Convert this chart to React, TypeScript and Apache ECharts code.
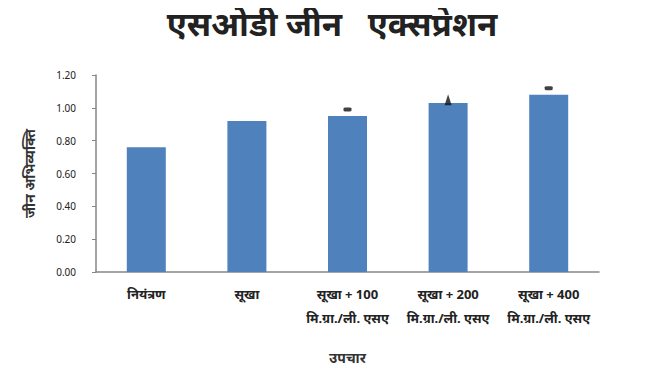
import React, { useEffect, useRef } from "react";
import * as echarts from "echarts";

const titleText = "एसओडी जीन   एक्सप्रेशन";
const categories = [
  "नियंत्रण",
  "सूखा",
  "सूखा + 100\nमि.ग्रा./ली. एसए",
  "सूखा + 200\nमि.ग्रा./ली. एसए",
  "सूखा + 400\nमि.ग्रा./ली. एसए",
];
const values = [0.76, 0.92, 0.95, 1.03, 1.08];
const dashMarks: (number | null)[] = [null, null, 0.99, null, 1.12];
const triangleMarks: (number | null)[] = [null, null, null, 1.05, null];
const yTicks = { min: 0, max: 1.2, interval: 0.2 };
const yName = "जीन अभिव्यक्ति";
const xName = "उपचार";

const FONT = "'Noto Sans', 'Noto Sans Devanagari', sans-serif";

export default function App() {
  const ref = useRef<HTMLDivElement>(null);
  useEffect(() => {
    if (!ref.current) return;
    const chart = echarts.init(ref.current, undefined, { renderer: "svg" });
    chart.setOption({
      animation: false,
      textStyle: { fontFamily: FONT },
      title: {
        text: titleText,
        left: 327,
        textAlign: "center",
        top: 2,
        textStyle: { fontSize: 33, fontWeight: "bold", color: "#222", fontFamily: FONT },
      },
      grid: { left: 96, right: 51, top: 75, bottom: 101 },
      xAxis: {
        type: "category",
        data: categories,
        name: xName,
        nameLocation: "middle",
        nameGap: 78,
        nameTextStyle: { fontSize: 14, color: "#333", fontWeight: "bold" },
        axisLine: { lineStyle: { color: "#868686", width: 1.5 } },
        axisTick: { show: false },
        axisLabel: {
          interval: 0,
          color: "#222",
          fontSize: 13,
          fontWeight: "bold",
          margin: 10,
          lineHeight: 24,
        },
      },
      yAxis: {
        type: "value",
        min: yTicks.min,
        max: yTicks.max,
        interval: yTicks.interval,
        name: yName,
        nameLocation: "middle",
        nameGap: 60,
        nameRotate: 90,
        nameTextStyle: { fontSize: 14, color: "#333", fontWeight: "bold" },
        splitLine: { show: false },
        axisLine: { show: true, lineStyle: { color: "#868686", width: 1.5 } },
        axisTick: { show: true, length: 4, lineStyle: { color: "#868686" } },
        axisLabel: {
          color: "#222",
          fontSize: 10,
          margin: 20,
          formatter: (v: number) => v.toFixed(2),
        },
      },
      series: [
        {
          type: "bar",
          data: values,
          barWidth: 39,
          itemStyle: { color: "#4F81BD" },
        },
        {
          type: "scatter",
          data: dashMarks,
          symbol: "roundRect",
          symbolSize: [8, 4],
          itemStyle: { color: "#111" },
        },
        {
          type: "scatter",
          data: triangleMarks,
          symbol: "triangle",
          symbolSize: [7, 11],
          itemStyle: { color: "#111" },
        },
      ],
    });
    return () => chart.dispose();
  }, []);
  return <div ref={ref} style={{ width: 650, height: 373, margin: -8 }} />;
}
